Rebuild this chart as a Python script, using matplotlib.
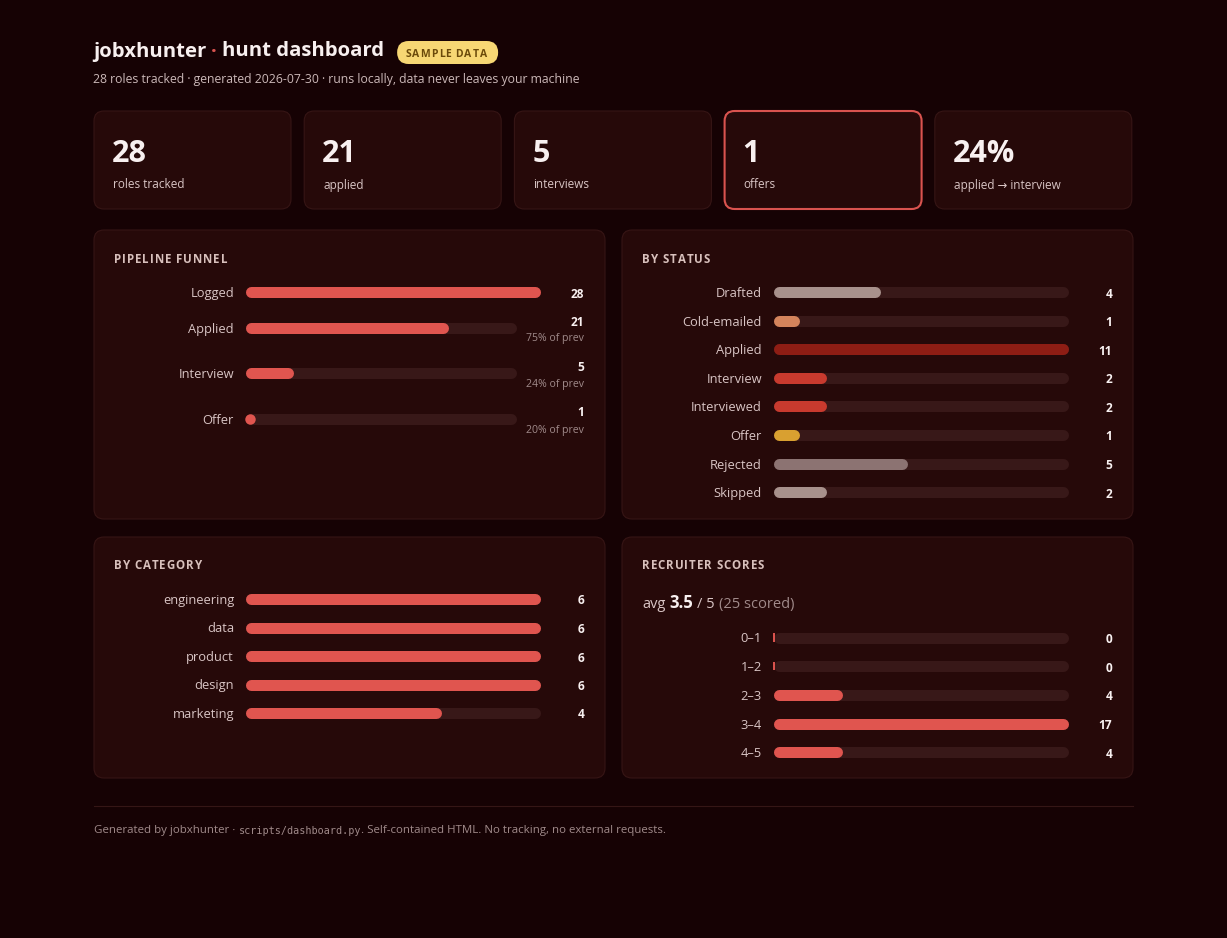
import matplotlib
matplotlib.use("Agg")
import matplotlib.pyplot as plt
from matplotlib.patches import FancyBboxPatch

plt.rcParams['font.family'] = ['Open Sans', 'DejaVu Sans']

# ---------------- data ----------------
title_left = "jobxhunter"
title_right = "hunt dashboard"
badge_text = "SAMPLE DATA"
subtitle = "28 roles tracked · generated 2026-07-30 · runs locally, data never leaves your machine"

kpi_values = ["28", "21", "5", "1", "24%"]
kpi_labels = ["roles tracked", "applied", "interviews", "offers", "applied → interview"]
kpi_highlight = [False, False, False, True, False]

funnel_stages = ["Logged", "Applied", "Interview", "Offer"]
funnel_counts = [28, 21, 5, 1]

status_labels = ["Drafted", "Cold-emailed", "Applied", "Interview", "Interviewed",
                 "Offer", "Rejected", "Skipped"]
status_counts = [4, 1, 11, 2, 2, 1, 5, 2]
status_colors = ["#a8918c", "#d4845c", "#8e1d14", "#c83a2e", "#c83a2e",
                 "#d9a030", "#8c7372", "#a8918c"]

category_labels = ["engineering", "data", "product", "design", "marketing"]
category_counts = [6, 6, 6, 6, 4]

score_bins = ["0–1", "1–2", "2–3", "3–4", "4–5"]
score_counts = [0, 0, 4, 17, 4]
score_avg = 3.5
score_max = 5
score_n = 25

footer_parts = ["Generated by jobxhunter · ", "scripts/dashboard.py",
                ". Self-contained HTML. No tracking, no external requests."]

# ---------------- style ----------------
W, H = 1227, 938
BG = '#160204'
PANEL = '#260909'
BORDER = '#361515'
TRACK = '#381818'
BAR = '#e0554f'
WHITE = '#f8f0f0'
LABEL = '#d9c5c5'
TITLEC = '#d8c0bc'
SUB = '#a08a8a'
ACCENT = '#d9534f'

fig = plt.figure(figsize=(W / 100, H / 100), dpi=100)
fig.patch.set_facecolor(BG)
ax = fig.add_axes([0, 0, 1, 1])
ax.set_xlim(0, W)
ax.set_ylim(H, 0)
ax.axis('off')
ax.set_facecolor(BG)
renderer = fig.canvas.get_renderer()


def px_axes(x0, y0, x1, y1):
    a = fig.add_axes([x0 / W, 1 - y1 / H, (x1 - x0) / W, (y1 - y0) / H])
    a.axis('off')
    return a


def box(x, y, w, h, r=10, fc=PANEL, ec=BORDER, lw=0.8):
    ax.add_patch(FancyBboxPatch((x, y), w, h, boxstyle=f"round,pad=0,rounding_size={r}",
                                fc=fc, ec=ec, lw=lw))


def chain(x, y, parts):
    for s, gap, kw in parts:
        x += gap
        t = ax.text(x, y, s, ha='left', va='baseline', **kw)
        bb = t.get_window_extent(renderer)
        x = ax.transData.inverted().transform((bb.x1, bb.y0))[0]
    return x


def spaced(x, y, s, spacing=1.1, space_w=3.5, **kw):
    for ch in s:
        if ch == ' ':
            x += space_w
            continue
        t = ax.text(x, y, ch, ha='left', va='baseline', **kw)
        bb = t.get_window_extent(renderer)
        x = ax.transData.inverted().transform((bb.x1, bb.y0))[0] + spacing
    return x


def bar_row(x0, x1, yc, value, vmax, color, h=11):
    a = px_axes(x0, yc - h, x1, yc + h)
    a.set_xlim(0, vmax)
    a.set_ylim(-1, 1)
    wpx = x1 - x0
    r = (h / 2) * vmax / wpx
    lw = h * 72 / 100
    a.plot([r, vmax - r], [0, 0], color=TRACK, lw=lw, solid_capstyle='round', clip_on=False)
    if value >= 2 * r:
        a.plot([r, value - r], [0, 0], color=color, lw=lw, solid_capstyle='round', clip_on=False)
    elif value > 0:
        a.plot([value / 2], [0], marker='o', ms=lw * 0.95, mew=0, color=color, clip_on=False)
    else:
        eps = 1.2 * vmax / wpx
        a.plot([eps, eps], [-0.38, 0.38], color=color, lw=1.4, solid_capstyle='butt', clip_on=False)


# ---------------- header ----------------
x_end = chain(93, 56.5, [
    (title_left, 0, dict(fontsize=14.6, weight='bold', color=WHITE)),
    ("·", 5, dict(fontsize=14.6, weight='bold', color=ACCENT)),
    (title_right, 5, dict(fontsize=14.6, weight='bold', color=WHITE)),
])
bx = x_end + 13
box(bx, 41, 101, 23, r=11.5, fc='#f7d774', ec='none', lw=0)
spaced(bx + 8.5, 56.8, badge_text, spacing=1.0, space_w=3.5, fontsize=7.5,
       weight='bold', color='#6b4a0a')
ax.text(93, 80, subtitle, ha='left', va='center', fontsize=8.85, color='#cbb8b8')

# ---------------- KPI cards ----------------
card_w, card_gap = 197, 13.2
for i, (v, lab, hl) in enumerate(zip(kpi_values, kpi_labels, kpi_highlight)):
    cx = 94 + i * (card_w + card_gap)
    if hl:
        box(cx, 111, card_w, 98, r=10, fc=PANEL, ec=ACCENT, lw=1.5)
    else:
        box(cx, 111, card_w, 98, r=10)
    ax.text(cx + 18, 153.5, v, ha='left', va='center', fontsize=22, weight='bold', color=WHITE)
    ax.text(cx + 19, 185, lab, ha='left', va='center', fontsize=8.5, color=LABEL)

# ---------------- panels ----------------
PL, PR, PW = 94, 622, 511
box(PL, 230, PW, 289)
box(PR, 230, PW, 289)
box(PL, 537, PW, 241)
box(PR, 537, PW, 241)

for px, py, t in [(PL, 263, "PIPELINE FUNNEL"), (PR, 263, "BY STATUS"),
                  (PL, 569, "BY CATEGORY"), (PR, 569, "RECRUITER SCORES")]:
    spaced(px + 20, py, t, spacing=1.0, space_w=3.5, fontsize=8.3, weight='bold',
           color=TITLEC)

LAB_R = 140
TRK_0 = 151
TRK_1 = 446
VAL_R = 490
DY = 1.5

# funnel
y = 292
fmax = max(funnel_counts)
for i, (s, c) in enumerate(zip(funnel_stages, funnel_counts)):
    has_sub = i > 0
    if i == 1:
        y += 36
    elif i > 1:
        y += 45.5
    x1 = PL + (TRK_1 - 24 if has_sub else TRK_1)
    ax.text(PL + LAB_R, y + DY, s, ha='right', va='center', fontsize=9.3, color=LABEL)
    bar_row(PL + TRK_0, x1, y, c, fmax, BAR)
    if has_sub:
        pct = round(100 * c / funnel_counts[i - 1])
        ax.text(PL + VAL_R, y - 6, str(c), ha='right', va='center', fontsize=8.6,
                weight='bold', color=WHITE)
        ax.text(PL + VAL_R, y + 11, f"{pct}% of prev", ha='right', va='center',
                fontsize=7.6, color=SUB)
    else:
        ax.text(PL + VAL_R, y + 2, str(c), ha='right', va='center', fontsize=8.6,
                weight='bold', color=WHITE)

# status
smax = max(status_counts)
for i, (s, c, col) in enumerate(zip(status_labels, status_counts, status_colors)):
    y = 292 + i * 28.6
    ax.text(PR + LAB_R, y + DY, s, ha='right', va='center', fontsize=9.3, color=LABEL)
    bar_row(PR + TRK_0, PR + TRK_1, y, c, smax, col)
    ax.text(PR + VAL_R, y + 2, str(c), ha='right', va='center', fontsize=8.6,
            weight='bold', color=WHITE)

# category
cmax = max(category_counts)
for i, (s, c) in enumerate(zip(category_labels, category_counts)):
    y = 599 + i * 28.5
    ax.text(PL + LAB_R, y + DY, s, ha='right', va='center', fontsize=9.3, color=LABEL)
    bar_row(PL + TRK_0, PL + TRK_1, y, c, cmax, BAR)
    ax.text(PL + VAL_R, y + 2, str(c), ha='right', va='center', fontsize=8.6,
            weight='bold', color=WHITE)

# recruiter scores
chain(PR + 20, 608, [
    ("avg", 0, dict(fontsize=10.5, color=LABEL)),
    (f"{score_avg}", 4, dict(fontsize=12, weight='bold', color=WHITE)),
    (f"/ {score_max}", 4, dict(fontsize=10.5, color=LABEL)),
    (f"({score_n} scored)", 4, dict(fontsize=10.5, color=SUB)),
])
rmax = max(score_counts)
for i, (s, c) in enumerate(zip(score_bins, score_counts)):
    y = 637.5 + i * 28.7
    ax.text(PR + LAB_R, y + DY, s, ha='right', va='center', fontsize=9.3, color=LABEL)
    bar_row(PR + TRK_0, PR + TRK_1, y, c, rmax, BAR)
    ax.text(PR + VAL_R, y + 2, str(c), ha='right', va='center', fontsize=8.6,
            weight='bold', color=WHITE)

# ---------------- footer ----------------
ax.plot([94, 1133], [806.5, 806.5], color='#351616', lw=0.8)
chain(94, 833.5, [
    (footer_parts[0], 0, dict(fontsize=8.25, color=SUB)),
    (footer_parts[1], 0.5, dict(fontsize=7.3, color=SUB, family='DejaVu Sans Mono')),
    (footer_parts[2], 0, dict(fontsize=8.25, color=SUB)),
])

fig.savefig("out.png", dpi=100, facecolor=BG)
